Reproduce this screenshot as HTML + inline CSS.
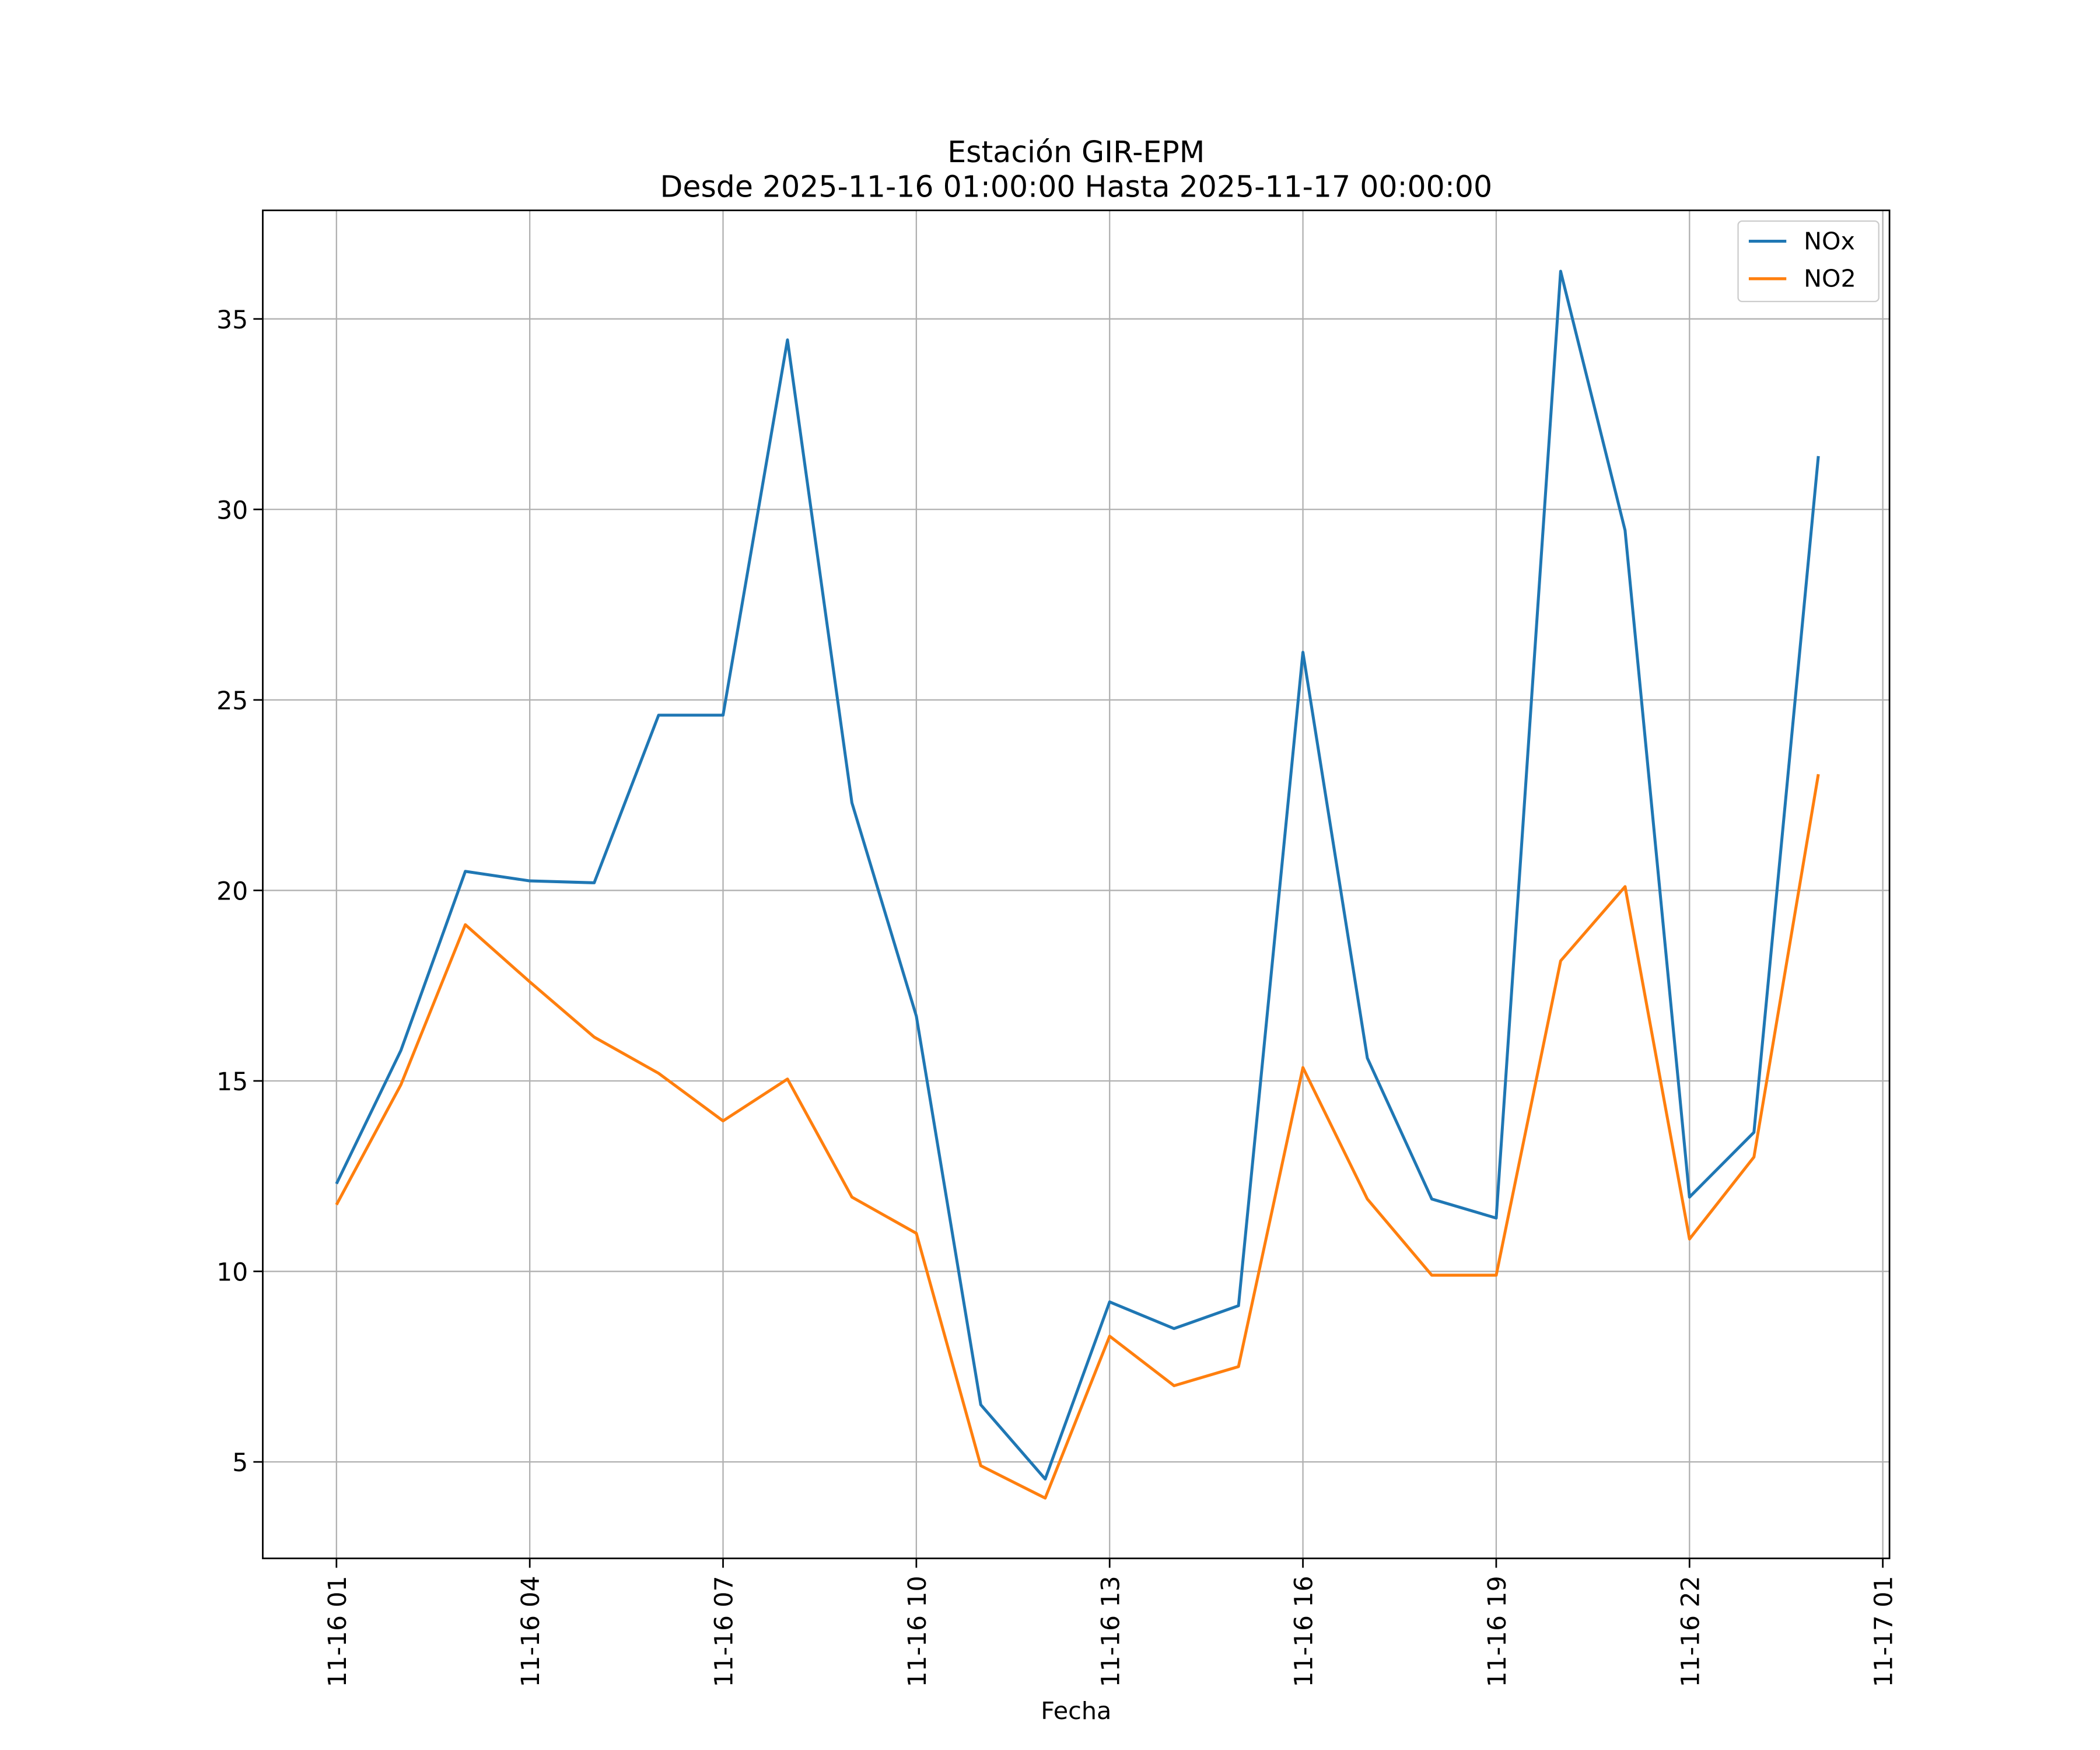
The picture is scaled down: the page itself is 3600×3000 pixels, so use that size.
<!DOCTYPE html>
<html><head><meta charset="utf-8"><style>
html,body{margin:0;padding:0;background:#fff}
svg{display:block}
text{font-family:"DejaVu Sans","Liberation Sans",sans-serif;fill:#000}
</style></head><body>
<svg id="chart" width="3600" height="3000" viewBox="0 0 1567 1306" xmlns="http://www.w3.org/2000/svg">
<text x="803" y="121" font-size="22" text-anchor="middle">Estación GIR-EPM</text>
<text x="803" y="147" font-size="22" text-anchor="middle">Desde 2025-11-16 01:00:00 Hasta 2025-11-17 00:00:00</text>
<g id="grid"></g>
<g id="ticks"></g>
<g id="series"></g>
<rect x="196" y="157" width="1214" height="1006" fill="none" stroke="#000" stroke-width="1.2"/>
<text x="803" y="1283" font-size="18" text-anchor="middle">Fecha</text>
<g>
<rect x="1297" y="165" width="105" height="60" rx="3" fill="#fff" stroke="#ccc" stroke-width="1"/>
<g><line x1="1305" y1="180" x2="1333" y2="180" stroke="#1f77b4" stroke-width="2.2"/><text x="1346" y="186" font-size="18">NOx</text></g>
<g><line x1="1305" y1="208" x2="1333" y2="208" stroke="#ff7f0e" stroke-width="2.2"/><text x="1346" y="214" font-size="18">NO2</text></g>
</g>
</svg>
<script>
const hours=[1,2,3,4,5,6,7,8,9,10,11,12,13,14,15,16,17,18,19,20,21,22,23,24];
const noxValues=[12.3,15.8,20.5,20.25,20.2,24.6,24.6,34.45,22.3,16.7,6.5,4.55,9.2,8.5,9.1,26.25,15.6,11.9,11.4,36.25,29.45,11.95,13.65,31.4];
const no2Values=[11.75,14.9,19.1,17.6,16.15,15.2,13.95,15.05,11.95,11.0,4.9,4.05,8.3,7.0,7.5,15.35,11.9,9.9,9.9,18.15,20.1,10.85,13.0,23.05];
const xTickHours=[1,4,7,10,13,16,19,22,25];
const xTickLabels=["11-16 01","11-16 04","11-16 07","11-16 10","11-16 13","11-16 16","11-16 19","11-16 22","11-17 01"];
const yTicks=[5,10,15,20,25,30,35];
const NS="http://www.w3.org/2000/svg";
function xs(h){return 251+(h-1)*(1405-251)/24;}
function ys(v){return 1091-(v-5)*(1091-238)/30;}
function mk(tag,attrs,parent){const e=document.createElementNS(NS,tag);for(const k in attrs)e.setAttribute(k,attrs[k]);parent.appendChild(e);return e;}
const grid=document.getElementById('grid'),ticks=document.getElementById('ticks'),series=document.getElementById('series');
xTickHours.forEach((h,i)=>{
 const x=xs(h);
 const g=mk('line',{x1:x,y1:157,x2:x,y2:1163,stroke:'#b0b0b0','stroke-width':1},grid);
 
 
 mk('line',{x1:x,y1:1163,x2:x,y2:1170,stroke:'#000','stroke-width':1.2},ticks);
 const t=mk('text',{x:0,y:0,'font-size':18.5,'text-anchor':'end',transform:`translate(${x+7},1176) rotate(-90)`},ticks);
 t.textContent=xTickLabels[i];
 
 
});
yTicks.forEach(v=>{
 const y=ys(v);
 const g=mk('line',{x1:196,y1:y,x2:1410,y2:y,stroke:'#b0b0b0','stroke-width':1},grid);
 
 
 mk('line',{x1:189,y1:y,x2:196,y2:y,stroke:'#000','stroke-width':1.2},ticks);
 const t=mk('text',{x:185,y:y+7,'font-size':18.5,'text-anchor':'end'},ticks);
 t.textContent=String(v);
 
 
});
function line(vals,color,name){
 const p=mk('polyline',{points:vals.map((v,i)=>xs(hours[i])+','+ys(v)).join(' '),fill:'none',stroke:color,'stroke-width':2.2,'stroke-linejoin':'round'},series);
 
 
}
line(noxValues,'#1f77b4','nox-line');
line(no2Values,'#ff7f0e','no2-line');
</script>
</body></html>
